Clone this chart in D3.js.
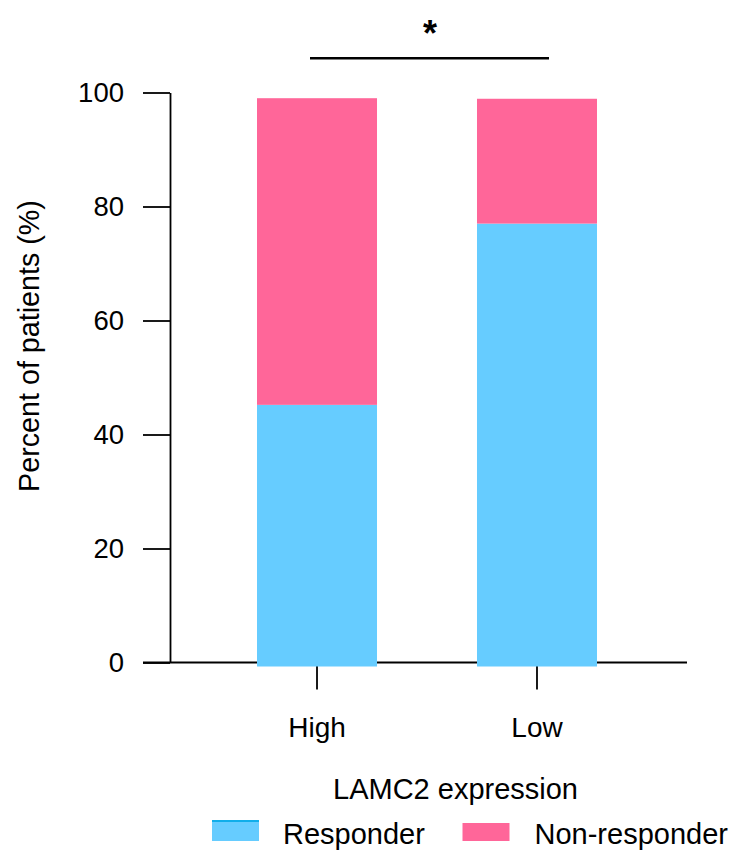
<!DOCTYPE html>
<html>
<head>
<meta charset="utf-8">
<script src="https://cdn.jsdelivr.net/npm/d3@7"></script>
<style>
  html, body { margin: 0; padding: 0; background: #fff; }
  svg { display: block; font-family: "Liberation Sans", Arial, sans-serif; }
</style>
</head>
<body>
<svg id="chart" width="733" height="851"></svg>
<script>
// Response rate by LAMC2 expression group (percent of patients)
const categories = ["High", "Low"];
const responder = [45.2, 77.0];
const nonResponder = [53.8, 21.9];
const seriesNames = ["Responder", "Non-responder"];
const seriesColors = ["#66CCFF", "#FF6699"];
const yTicks = [0, 20, 40, 60, 80, 100];
const significance = "*";

const svg = d3.select("#chart");

const x = d3.scaleBand()
  .domain(categories)
  .range([207, 647])
  .paddingInner(0.4545)
  .paddingOuter(0.2273);

const y = d3.scaleLinear().domain([0, 100]).range([662.5, 92.5]);

const axisColor = "#000";
const baseOverhang = 4;

// stacked data
const rows = categories.map((c, i) => ({ cat: c, Responder: responder[i], "Non-responder": nonResponder[i] }));
const stacked = d3.stack().keys(seriesNames)(rows);

// y axis
const yAxis = d3.axisLeft(y).tickValues(yTicks).tickSize(27).tickPadding(19).tickSizeOuter(0);
const gy = svg.append("g").attr("transform", "translate(170,0)").call(yAxis);
gy.select(".domain").attr("stroke", axisColor).attr("stroke-width", 1.8);
gy.selectAll(".tick line").attr("stroke", axisColor).attr("stroke-width", 1.8);
gy.selectAll(".tick text")
  .attr("fill", "#000")
  .style("font-size", "27.5px")
  .style("font-family", "'Liberation Sans', Arial, sans-serif");

// x baseline spanning the plot
svg.append("line")
  .attr("x1", 143).attr("x2", 687)
  .attr("y1", y(0)).attr("y2", y(0))
  .attr("stroke", axisColor).attr("stroke-width", 1.8);

// x ticks below the baseline
const xAxis = d3.axisBottom(x).tickSize(27).tickPadding(28).tickSizeOuter(0);
const gx = svg.append("g").attr("transform", `translate(0,${y(0)})`).call(xAxis);
gx.select(".domain").remove();
gx.selectAll(".tick line").attr("stroke", axisColor).attr("stroke-width", 1.8);
gx.selectAll(".tick text")
  .attr("fill", "#000")
  .style("font-size", "28px")
  .style("font-family", "'Liberation Sans', Arial, sans-serif");

// bars (bottom segment overhangs the baseline slightly)
svg.append("g")
  .selectAll("g")
  .data(stacked)
  .join("g")
  .attr("fill", (d, i) => seriesColors[i])
  .selectAll("rect")
  .data(d => d)
  .join("rect")
  .attr("x", d => x(d.data.cat))
  .attr("width", x.bandwidth())
  .attr("y", d => y(d[1]))
  .attr("height", d => (d[0] === 0 ? y(d[0]) + baseOverhang : y(d[0])) - y(d[1]));

// y-axis title
svg.append("text")
  .attr("transform", "translate(38.5,346) rotate(-90)")
  .attr("text-anchor", "middle")
  .style("font-size", "28.7px")
  .attr("fill", "#000")
  .text("Percent of patients (%)");

// x-axis title
svg.append("text")
  .attr("x", 455.5)
  .attr("y", 799)
  .attr("text-anchor", "middle")
  .style("font-size", "29px")
  .attr("fill", "#000")
  .text("LAMC2 expression");

// significance bracket
svg.append("line")
  .attr("x1", 310).attr("x2", 549)
  .attr("y1", 58.3).attr("y2", 58.3)
  .attr("stroke", "#000").attr("stroke-width", 2.4);
svg.append("text")
  .attr("x", 430)
  .attr("y", 46)
  .attr("text-anchor", "middle")
  .style("font-size", "36px")
  .style("font-weight", "bold")
  .attr("fill", "#000")
  .text(significance);

// legend
const legendItems = [
  { name: seriesNames[0], color: seriesColors[0], sx: 212, tx: 283, top: 820, edge: "#11AEEA" },
  { name: seriesNames[1], color: seriesColors[1], sx: 462.5, tx: 534.5, top: 823, edge: null }
];
const lg = svg.append("g");
legendItems.forEach(it => {
  lg.append("rect")
    .attr("x", it.sx).attr("y", it.top)
    .attr("width", 47).attr("height", 841 - it.top)
    .attr("fill", it.color);
  if (it.edge) {
    lg.append("rect")
      .attr("x", it.sx).attr("y", it.top)
      .attr("width", 47).attr("height", 2)
      .attr("fill", it.edge);
  }
  lg.append("text")
    .attr("x", it.tx).attr("y", 844)
    .style("font-size", "29px")
    .attr("fill", "#000")
    .text(it.name);
});
</script>
</body>
</html>
